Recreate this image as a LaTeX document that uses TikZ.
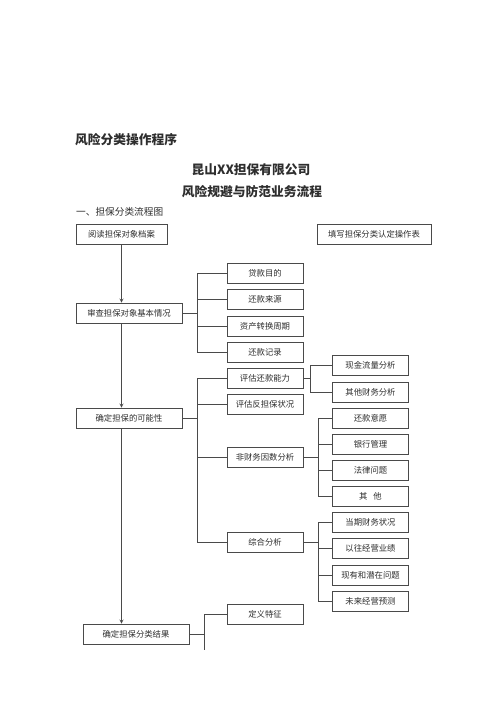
\documentclass[tikz,border=0pt]{standalone}
\usepackage{fontspec}
\setmainfont{Noto Sans CJK SC}
\definecolor{linegray}{HTML}{4A4A4A}
\definecolor{textgray}{HTML}{2E2E2E}

\begin{document}
\begin{tikzpicture}[
    x=0.04cm, y=-0.04cm,
    box/.style={rectangle, draw=linegray, line width=1pt, fill=white, text=textgray,
        minimum height=0.8cm, inner sep=0pt, font=\fontsize{9.5}{11}\selectfont},
    wbox/.style={box, minimum width=3.04cm},
    line/.style={draw=linegray, line width=1pt},
    arrow/.style={->, >=stealth, line},
    title/.style={text=textgray, inner sep=0pt, font=\fontsize{14.5}{16}\selectfont\bfseries}
]
\useasboundingbox[fill=white] (0,0) rectangle (500,707);

% Titles
\node[title, anchor=west] (head) at (75,140) {风险分类操作程序};
\node[title] (company) at (251,170) {昆山XX担保有限公司};
\node[title] (flowname) at (252,192) {风险规避与防范业务流程};
\node[title, anchor=west, font=\fontsize{11}{13}\selectfont] (section) at (76,212) {一、担保分类流程图};

% Main column
\node[box, minimum width=3.64cm] (read) at (121.5,234) {阅读担保对象档案};
\node[box, minimum width=4.56cm] (fill) at (374,234) {填写担保分类认定操作表};
\node[box, minimum width=4.24cm] (review) at (129,313) {审查担保对象基本情况};
\node[box, minimum width=4.24cm] (feasible) at (129,418) {确定担保的可能性};
\node[box, minimum width=4.24cm] (result) at (136,634) {确定担保分类结果};

% Second level
\node[wbox] (purpose) at (265,273) {贷款目的};
\node[wbox] (source) at (265,299) {还款来源};
\node[wbox] (cycle) at (265,326) {资产转换周期};
\node[wbox] (record) at (265,352) {还款记录};
\node[wbox] (ability) at (265,378) {评估还款能力};
\node[wbox] (counter) at (265,404) {评估反担保状况};
\node[wbox] (nonfin) at (265,457) {非财务因数分析};
\node[wbox] (overall) at (265,542) {综合分析};
\node[wbox] (define) at (265,614) {定义特征};

% Third level
\node[wbox] (cash) at (370.5,365) {现金流量分析};
\node[wbox] (otherfin) at (370.5,392) {其他财务分析};
\node[wbox] (will) at (370.5,418) {还款意愿};
\node[wbox] (bank) at (370.5,444) {银行管理};
\node[wbox] (legal) at (370.5,470) {法律问题};
\node[wbox] (other) at (370.5,496) {其\hspace{0.7em}他};
\node[wbox] (current) at (370.5,522) {当期财务状况};
\node[wbox] (past) at (370.5,548) {以往经营业绩};
\node[wbox] (problem) at (370.5,575) {现有和潜在问题};
\node[wbox] (future) at (370.5,601) {未来经营预测};

% Bracket joints
\coordinate (jreview) at (197,313);
\coordinate (jfeasible) at (197,418);
\coordinate (jability) at (310,378);
\coordinate (jnonfin) at (318,457);
\coordinate (joverall) at (318,542);
\coordinate (jresult) at (204,634);
\coordinate (jtail) at (204,650);

% Main arrows
\draw[arrow] (read.south) -- (read.south |- review.north);
\draw[arrow] (read.south |- review.south) -- (read.south |- feasible.north);
\draw[arrow] (read.south |- feasible.south) -- (read.south |- result.north);

% Brackets
\draw[line] (review.east) -- (jreview);
\foreach \n in {purpose,source,cycle,record}
    \draw[line] (\n.west) -| (jreview);
\draw[line] (feasible.east) -- (jfeasible);
\foreach \n in {ability,counter,nonfin,overall}
    \draw[line] (\n.west) -| (jfeasible);
\draw[line] (ability.east) -- (jability);
\foreach \n in {cash,otherfin}
    \draw[line] (\n.west) -| (jability);
\draw[line] (nonfin.east) -- (jnonfin);
\foreach \n in {will,bank,legal,other}
    \draw[line] (\n.west) -| (jnonfin);
\draw[line] (overall.east) -- (joverall);
\foreach \n in {current,past,problem,future}
    \draw[line] (\n.west) -| (joverall);
\draw[line] (result.east) -- (jresult);
\draw[line] (define.west) -| (jtail);

\end{tikzpicture}
\end{document}
